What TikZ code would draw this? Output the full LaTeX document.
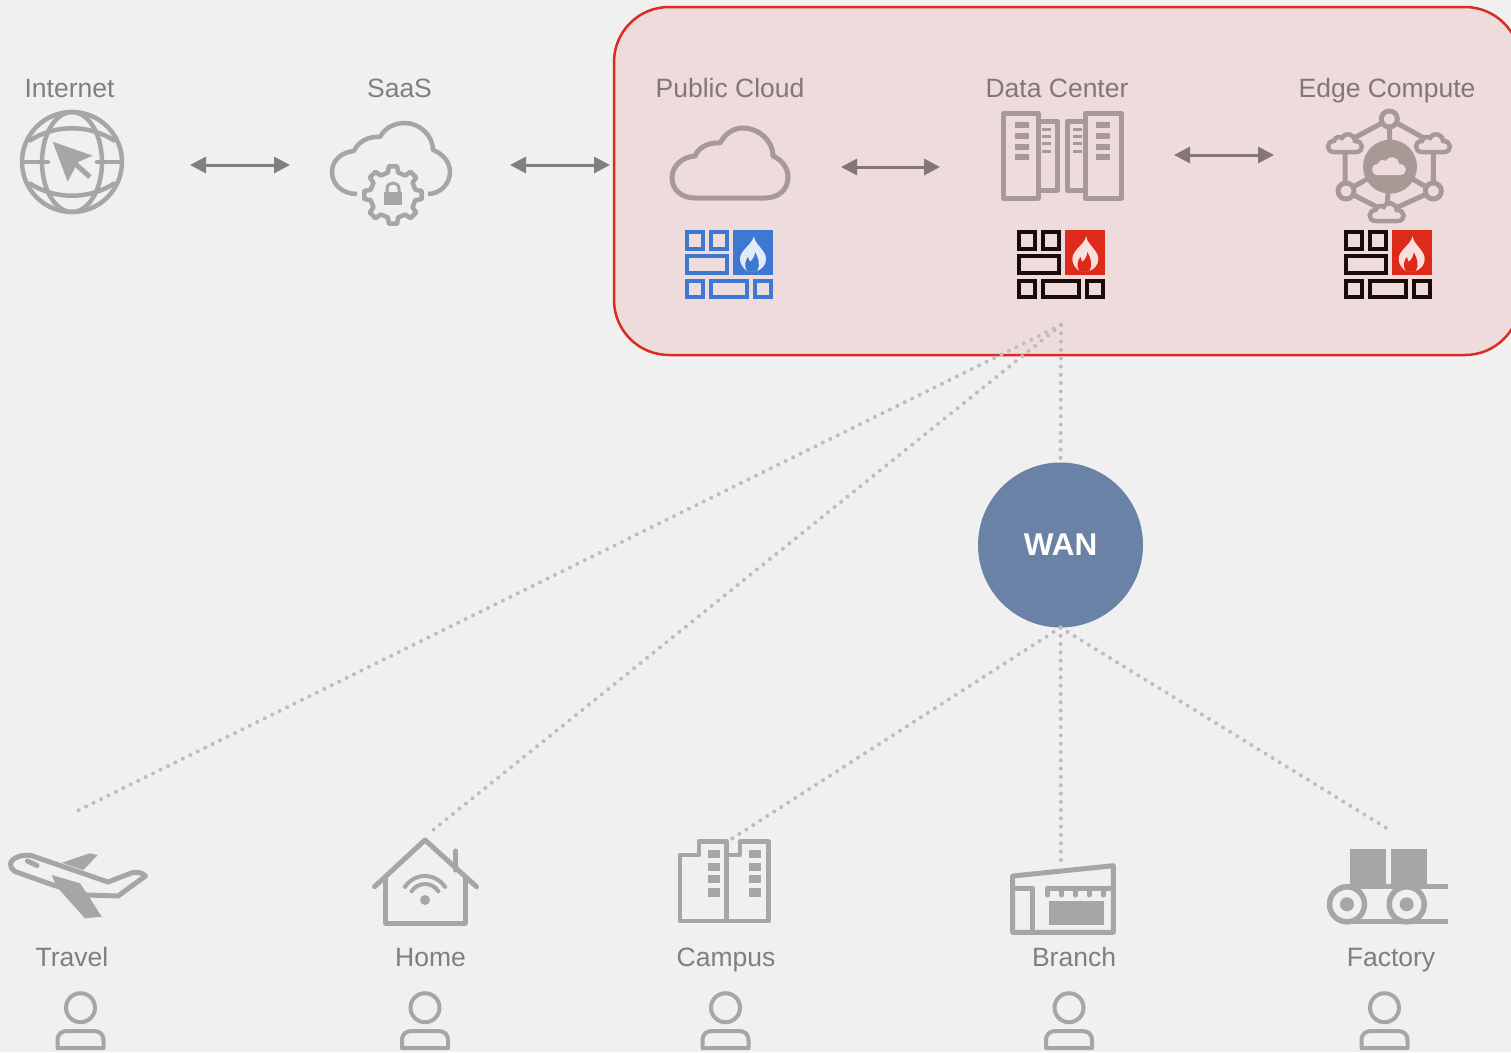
\documentclass[tikz,border=0pt]{standalone}
\usepackage{fontspec}
\setmainfont{Liberation Sans}
\usetikzlibrary{arrows.meta}
\usepackage{xcolor}
\definecolor{pagebg}{HTML}{F0F0F0}
\definecolor{boxbg}{HTML}{EEDCDC}
\definecolor{boxred}{HTML}{DB2B22}
\definecolor{ico}{HTML}{A6A6A6}
\definecolor{icobox}{HTML}{A89896}
\definecolor{txt}{HTML}{7F7F7F}
\definecolor{txtbox}{HTML}{857575}
\definecolor{fwblue}{HTML}{3F78D2}
\definecolor{fwred}{HTML}{DD2A1B}
\definecolor{fwblack}{HTML}{1A0A0A}
\definecolor{wanblue}{HTML}{6A82A6}
\definecolor{dots}{HTML}{BDBDBD}

\tikzset{
	lbl/.style = {anchor=base, inner sep=0, text=txt, font=\fontsize{26.5}{30}\selectfont},
	lblbox/.style = {lbl, text=txtbox},
	link/.style = {{Triangle[length=16,width=16]}-{Triangle[length=16,width=16]}, line width=3, draw=txt},
	linkbox/.style = {link, draw=txtbox},
	dotline/.style = {draw=dots, line width=4, line cap=round, dash pattern=on 0pt off 8.3pt},
	icon/.style = {draw=ico, line width=4.5, line join=round},
	iconbox/.style = {draw=icobox, line width=5, line join=round},
	pics/firewall/.style 2 args = {code = {
		% bricks
		\foreach \xa/\ya/\xb/\yb in {2/2/18/19, 26/2/42/19,
			2/26/42/42.7, 2/50.7/18/67.3, 26/50.7/62/67.3,
			70/50.7/86/67.3}
			\draw [draw=#1, line width=4] (\xa,\ya) rectangle (\xb,\yb);
		% flame
		\fill [#2] (48,0) rectangle (88,44.7);
		\fill [white!85!#2] (69,6) .. controls (69,14) and (81,20) .. (81,29)
			.. controls (81,35) and (77,39) .. (72,41) -- (62,41)
			.. controls (58,38) and (55,34) .. (55,29)
			.. controls (55,20) and (67,15) .. (69,6) -- cycle;
		\fill [#2] (62,41) .. controls (59,36) and (60,31) .. (63,27) -- (65,32)
			.. controls (68,29) and (70,26) .. (70,22)
			.. controls (73,27) and (76,35) .. (72,41) -- cycle;
	}},
	pics/user/.style = {code = {
		\draw [icon, line width=4] (0,0) circle (14.5);
		\draw [icon, line width=4] (-23,40.5) -- (-23,33) .. controls (-23,26) and (-19,23.3) .. (-13,23.3)
			-- (13,23.3) .. controls (19,23.3) and (23,26) .. (23,33) -- (23,40.5) -- cycle;
	}},
	pics/smallcloud/.style = {code = {
		\path [pic actions] (-11,9) .. controls (-19,9) and (-19,-2) .. (-11,-2)
			.. controls (-10,-6) and (-6,-7) .. (-3,-5)
			.. controls (0,-11) and (9,-10) .. (10,-2)
			.. controls (19,-2) and (19,9) .. (11,9) -- cycle;
	}},
}

\begin{document}
\begin{tikzpicture} [x=1pt, y=-1pt]
\useasboundingbox (0,0) rectangle (1511,1052);
\clip (0,0) rectangle (1511,1052);
\fill [pagebg] (0,0) rectangle (1511,1052);

% red area:
\draw [draw=boxred, fill=boxbg, line width=2.5, rounded corners=55] (614,7) rectangle (1520,355);

% labels:
\node [lbl] (internet) at (69.5,97) {Internet};
\node [lbl] (saas) at (399.5,97) {SaaS};
\node [lblbox] (public) at (730,97) {Public Cloud};
\node [lblbox] (datacenter) at (1057,97) {Data Center};
\node [lblbox] (edge) at (1387,97) {Edge Compute};
\node [lbl] (travel) at (72,966) {Travel};
\node [lbl] (home) at (430.5,966) {Home};
\node [lbl] (campus) at (726,966) {Campus};
\node [lbl] (branch) at (1074,966) {Branch};
\node [lbl] (factory) at (1391,966) {Factory};

% arrows:
\coordinate (a1) at (190,165);
\coordinate (a2) at (290,165);
\coordinate (a3) at (510,165);
\coordinate (a4) at (610,165);
\coordinate (a5) at (841,167);
\coordinate (a6) at (940,167);
\coordinate (a7) at (1174,155);
\coordinate (a8) at (1274,155);
\draw [link] (a1) -- (a2);
\draw [link] (a3) -- (a4);
\draw [linkbox] (a5) -- (a6);
\draw [linkbox] (a7) -- (a8);

% WAN and dotted links:
\node [circle, fill=wanblue, minimum size=165, inner sep=0, outer sep=0, text=white,
	font=\fontsize{31.5}{32}\selectfont\bfseries] (wan) at (1060.5,545) {WAN};
\coordinate (dc) at (1061,325);
\coordinate (ltravel) at (77,811);
\coordinate (lhome) at (428,834);
\coordinate (lcampus) at (730,840);
\coordinate (lbranch) at (1061,862);
\coordinate (lfactory) at (1388,829);
\draw [dotline] (dc) -- (ltravel);
\draw [dotline] (dc) -- (lhome);
\draw [dotline] (dc) -- (wan.north);
\draw [dotline] (wan.south) -- (lcampus);
\draw [dotline] (wan.south) -- (lbranch);
\draw [dotline] (wan.south) -- (lfactory);

% globe:
\draw [icon] (72,162) circle (50);
\draw [icon] (72,162) ellipse (30 and 50);
\draw [icon] (29,141) .. controls (55,124) and (89,124) .. (115,141);
\draw [icon] (29,183) .. controls (55,200) and (89,200) .. (115,183);
\draw [icon, line cap=round] (22,162) -- (48,162) (97,162) -- (122,162);
\fill [pagebg] (53,133) -- (96,155) -- (90,178) -- (66,186) -- (47,150) -- cycle;
\fill [ico] (52.7,141.7) -- (92.7,155.7) -- (78,162) -- (67.7,181.7) -- cycle;
\draw [ico, line width=5] (72,161) -- (90,177);

% saas cloud:
\draw [icon] (357,194) .. controls (342,194) and (332,184) .. (332,172)
	.. controls (332,160) and (342,152) .. (354,151)
	.. controls (358,142) and (368,136) .. (380,137)
	.. controls (385,128) and (394,123) .. (405,123)
	.. controls (420,123) and (433,136) .. (433,150)
	.. controls (443,154) and (450,162) .. (450,172)
	.. controls (450,184) and (440,194) .. (428,194);
\begin{scope} [shift={(393,195)}]
\draw [icon] (-13:23) \foreach \a in {0,45,...,315} {
	-- (\a-13:23) -- (\a-8:29) -- (\a+8:29) -- (\a+13:23) } -- cycle;
\fill [ico] (-9,-3) rectangle (9,10);
\draw [ico, line width=3] (-6,-3) -- (-6,-6) .. controls (-6,-14) and (6,-14) .. (6,-6) -- (6,-3);
\end{scope}

% public cloud:
\draw [iconbox] (695,198) .. controls (682,198) and (672,190) .. (672,178)
	.. controls (672,166) and (682,157) .. (695,156)
	.. controls (698,148) and (708,142) .. (720,143)
	.. controls (725,134) and (733,128) .. (743,128)
	.. controls (758,128) and (773,140) .. (773,156)
	.. controls (782,160) and (788,168) .. (788,177)
	.. controls (788,190) and (778,198) .. (765,198) -- cycle;

% data center:
\draw [iconbox] (1003.5,113.5) rectangle (1038,198);
\draw [iconbox] (1038,121) -- (1057,121) -- (1057,190) -- (1038,190);
\draw [iconbox] (1085,121) -- (1067,121) -- (1067,190) -- (1085,190);
\draw [iconbox] (1085,113.5) rectangle (1121,198);
\foreach \ya/\yb in {122.3/128, 133.3/139, 144/150, 154/160} {
	\fill [icobox] (1015,\ya) rectangle (1029,\yb);
	\fill [icobox] (1096,\ya) rectangle (1110,\yb);
}
\foreach \ya/\yb in {127.7/131, 134.7/138, 142/145.3, 150/153.3} {
	\fill [icobox] (1042,\ya) rectangle (1050.7,\yb);
	\fill [icobox] (1073.3,\ya) rectangle (1082,\yb);
}

% edge compute:
\draw [iconbox] (1389.3,119) -- (1345,143) (1389.3,119) -- (1433,143) (1389.3,119) -- (1390,166)
	(1345,143) -- (1345,191) (1433.3,143) -- (1433.3,191)
	(1346,191) -- (1386.7,212) (1433.3,191) -- (1386.7,212) (1390,166) -- (1386.7,212)
	(1346,191) -- (1390,166) (1433.3,191) -- (1390,166);
\fill [icobox] (1390,166.7) circle (27);
\draw [iconbox, fill=boxbg] (1389.3,119) circle (8);
\draw [iconbox, fill=boxbg] (1346,191) circle (8);
\draw [iconbox, fill=boxbg] (1433.3,191) circle (8);
\pic [draw=icobox, fill=boxbg, line width=4.5] at (1345,143) {smallcloud};
\pic [draw=icobox, fill=boxbg, line width=4.5] at (1433,143) {smallcloud};
\pic [draw=icobox, fill=boxbg, line width=4.5] at (1386.7,212) {smallcloud};
\pic [fill=boxbg] at (1389,166) {smallcloud};

% firewalls:
\pic at (685,230) {firewall={fwblue}{fwblue}};
\pic at (1017.3,230) {firewall={fwblack}{fwred}};
\pic at (1343.7,230) {firewall={fwblack}{fwred}};

% travel:
\draw [icon, line width=5] (10.5,864) .. controls (11,858) and (22,854) .. (31,855.5) -- (108,882) -- (130,873.5)
	.. controls (137,871) and (143,873) .. (145.5,876) -- (118,896) -- (87,895) -- (53,885) -- (15,871.5)
	.. controls (12,870) and (10.5,867) .. (10.5,864) -- cycle;
\draw [icon, line width=5, line cap=round] (27.5,861) -- (37,865.5);
\fill [ico] (61.7,862.7) -- (90,853.3) -- (97.7,855) -- (83.3,870) -- cycle;
\fill [ico] (51.7,875) -- (80,883.3) -- (90,898.3) -- (101.7,916.7) -- (85,918.3) -- (56.7,886.7) -- cycle;

% home:
\draw [icon, line width=5, line cap=round] (374.5,886.7) -- (425,840) -- (476.5,886.7);
\draw [icon, line width=5] (385.7,876) -- (385.7,923) -- (465,923) -- (465,876);
\draw [icon, line width=5, line cap=round] (455.7,851) -- (455.7,870);
\fill [ico] (425,900) circle (5);
\foreach \r in {16,24}
	\draw [icon, line width=4, line cap=round] (425,900) ++(213:\r) arc (213:327:\r);

% campus:
\draw [icon] (726.7,921) -- (680,921) -- (680,855) -- (699,855) -- (699,841.7) -- (726.7,841.7) -- cycle;
\draw [icon] (726.7,855) -- (740,855) -- (740,841.7) -- (768.3,841.7) -- (768.3,921) -- (726.7,921);
\foreach \ya/\yb in {850/857.7, 863.3/871, 875/882.7, 888.3/896.7} {
	\fill [ico] (708.3,\ya) rectangle (720,\yb);
	\fill [ico] (749,\ya) rectangle (761,\yb);
}

% branch:
\draw [icon, line width=5] (1012.7,876) -- (1113.3,865.7) -- (1113.3,932.3) -- (1012.7,932.3) -- cycle;
\draw [icon, line width=5] (1012.7,888.3) -- (1032.7,888.3) -- (1032.7,932.3);
\draw [icon, line width=5] (1047.7,888.3) -- (1113.3,888.3);
\foreach \x in {1047.7,1061.7,1075.7,1089.3,1103.3}
	\draw [icon, line width=5, line cap=round] (\x,888.3) -- (\x,895);
\fill [ico] (1049,901) rectangle (1104,925);

% factory:
\fill [ico] (1350,849) rectangle (1386,884);
\fill [ico] (1391,849) rectangle (1427,884);
\draw [icon, line width=5.5] (1347,886.7) -- (1448,886.7) (1347,921.7) -- (1448,921.7);
\draw [icon, line width=5.5, fill=pagebg] (1347,904.3) circle (17.5);
\draw [icon, line width=5.5, fill=pagebg] (1406.7,904.3) circle (17.5);
\fill [ico] (1347,904.3) circle (7);
\fill [ico] (1406.7,904.3) circle (7);

% users:
\pic at (80.5,1007.7) {user};
\pic at (425,1007.7) {user};
\pic at (725.5,1007.7) {user};
\pic at (1069,1007.7) {user};
\pic at (1384.5,1007.7) {user};
\end{tikzpicture}
\end{document}
